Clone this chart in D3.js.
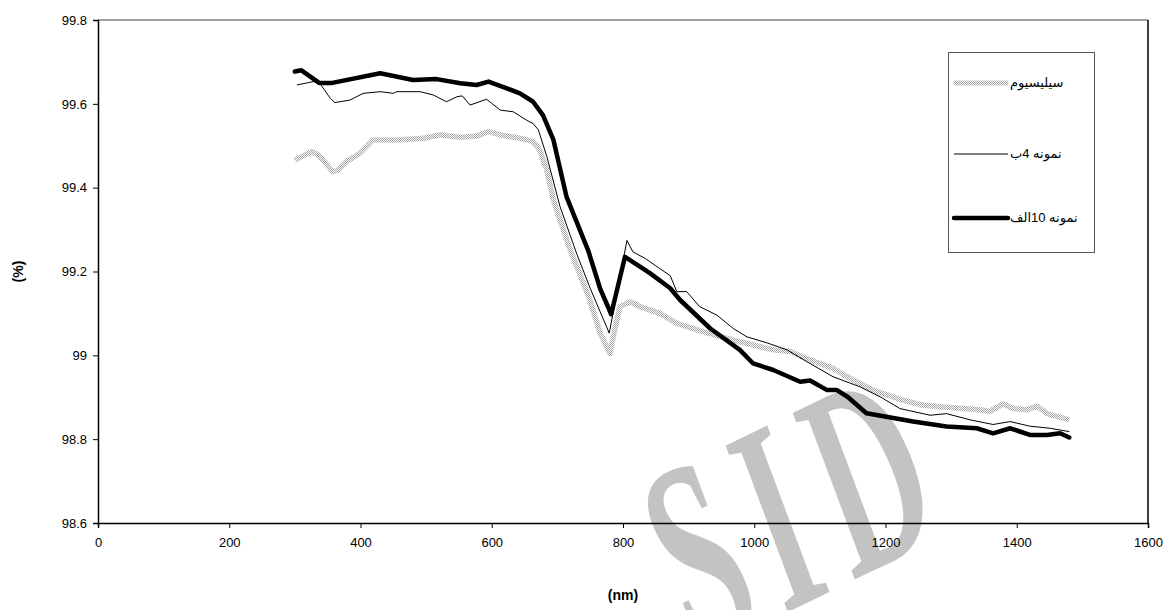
<!DOCTYPE html>
<html>
<head>
<meta charset="utf-8">
<script src="https://cdn.jsdelivr.net/npm/d3@7"></script>
<style>
  body { margin: 0; background: #fff; }
  text { font-family: Arial, "Liberation Sans", "DejaVu Sans", sans-serif; }
</style>
</head>
<body>
<div id="chart-area"></div>
<script>
/*
*    transmittance chart
*/
var seriesNames = ["سیلیسیوم", "نمونه 4ب", "نمونه 10الف"];
var xTicks = [0, 200, 400, 600, 800, 1000, 1200, 1400, 1600];
var yTicks = [98.6, 98.8, 99, 99.2, 99.4, 99.6, 99.8];

// silicon (grey stipple)
var siliconNm  = [300, 326, 336, 358, 366, 379, 399, 419, 455, 496, 521, 552, 577, 595, 613, 643, 663, 673, 684, 694, 720, 750, 765, 780, 795, 811, 826, 856, 882, 907, 933, 968, 998, 1029, 1055, 1085, 1120, 1151, 1181, 1222, 1257, 1293, 1344, 1359, 1379, 1395, 1415, 1431, 1446, 1480];
var siliconVal = [99.466, 99.486, 99.478, 99.438, 99.442, 99.462, 99.482, 99.514, 99.514, 99.518, 99.526, 99.52, 99.523, 99.534, 99.526, 99.518, 99.51, 99.49, 99.442, 99.37, 99.25, 99.13, 99.053, 99.005, 99.116, 99.128, 99.116, 99.10, 99.076, 99.064, 99.052, 99.036, 99.025, 99.013, 99.009, 98.989, 98.969, 98.941, 98.917, 98.895, 98.881, 98.876, 98.87, 98.866, 98.884, 98.873, 98.87, 98.879, 98.861, 98.846];

// sample 4b (thin black)
var s4bNm  = [303, 328, 338, 354, 361, 384, 404, 430, 450, 455, 491, 511, 531, 547, 555, 567, 592, 613, 633, 653, 663, 671, 684, 704, 730, 750, 779, 806, 815, 834, 856, 872, 882, 897, 917, 943, 968, 989, 1019, 1050, 1080, 1120, 1161, 1192, 1222, 1268, 1293, 1329, 1364, 1390, 1420, 1451, 1480];
var s4bVal = [99.645, 99.653, 99.649, 99.613, 99.603, 99.609, 99.625, 99.629, 99.625, 99.629, 99.629, 99.621, 99.605, 99.617, 99.619, 99.597, 99.611, 99.585, 99.581, 99.561, 99.553, 99.538, 99.474, 99.355, 99.24, 99.16, 99.053, 99.274, 99.247, 99.231, 99.207, 99.19, 99.152, 99.152, 99.116, 99.096, 99.064, 99.044, 99.03, 99.013, 98.985, 98.949, 98.925, 98.901, 98.873, 98.857, 98.861, 98.846, 98.835, 98.842, 98.831, 98.826, 98.818];

// sample 10alef (thick black)
var s10Nm  = [300, 310, 337, 357, 430, 480, 516, 552, 577, 595, 623, 643, 663, 678, 694, 714, 747, 765, 782, 803, 841, 872, 887, 933, 978, 998, 1029, 1070, 1085, 1111, 1126, 1143, 1171, 1242, 1293, 1339, 1364, 1390, 1420, 1446, 1466, 1480];
var s10Val = [99.677, 99.68, 99.65, 99.65, 99.673, 99.657, 99.659, 99.649, 99.645, 99.653, 99.637, 99.625, 99.605, 99.573, 99.514, 99.378, 99.25, 99.16, 99.098, 99.235, 99.196, 99.16, 99.132, 99.064, 99.013, 98.981, 98.965, 98.937, 98.94, 98.917, 98.917, 98.90, 98.862, 98.842, 98.830, 98.826, 98.814, 98.826, 98.81, 98.81, 98.814, 98.804];

var margin = {top: 20, bottom: 87, left: 98, right: 28};
var width = 1176;
var height = 610;
var innerW = width - margin.left - margin.right;
var innerH = height - margin.top - margin.bottom;

var svg = d3.select("#chart-area").append("svg")
    .attr("width", width)
    .attr("height", height);

var defs = svg.append("defs");
var pat = defs.append("pattern")
    .attr("id", "stipple")
    .attr("patternUnits", "userSpaceOnUse")
    .attr("width", 2)
    .attr("height", 2);
pat.append("rect").attr("x", 0).attr("y", 0).attr("width", 1).attr("height", 1).attr("fill", "#a3a3a3");
pat.append("rect").attr("x", 1).attr("y", 1).attr("width", 1).attr("height", 1).attr("fill", "#a3a3a3");

// watermark
svg.append("text")
    .attr("transform", "translate(700,655) rotate(-26) scale(0.55,1)")
    .attr("font-style", "italic")
    .attr("font-weight", "bold")
    .attr("font-size", "270px")
    .attr("letter-spacing", "30px")
    .attr("fill", "#c3c3c3")
    .style("font-family", "'Liberation Serif', 'DejaVu Serif', serif")
    .text("SID");

var g = svg.append("g")
    .attr("transform", "translate(" + margin.left + "," + margin.top + ")");

var x = d3.scaleLinear().domain([0, 1600]).range([0, innerW]);
var y = d3.scaleLinear().domain([98.6, 99.8]).range([innerH, 0]);

// plot border (top grey, right dark)
g.append("line").attr("x1", 0).attr("x2", innerW).attr("y1", 0).attr("y2", 0)
    .attr("stroke", "#808080").attr("stroke-width", 1.5);
g.append("line").attr("x1", innerW).attr("x2", innerW).attr("y1", 0).attr("y2", innerH)
    .attr("stroke", "#000").attr("stroke-width", 1.5);

var xAxis = d3.axisBottom(x).tickValues(xTicks).tickSize(5).tickPadding(10)
    .tickFormat(d3.format("d"));
var yAxis = d3.axisLeft(y).tickValues(yTicks).tickSize(5).tickPadding(6)
    .tickFormat((d) => { return d3.format("")(+d.toFixed(1)); });

var xAxisGroup = g.append("g")
    .attr("transform", "translate(0," + innerH + ")")
    .call(xAxis);
var yAxisGroup = g.append("g").call(yAxis);

[xAxisGroup, yAxisGroup].forEach((ag) => {
    ag.select(".domain").attr("stroke", "#000").attr("stroke-width", 1.5);
    ag.selectAll(".tick line").attr("stroke", "#000");
    ag.selectAll(".tick text")
        .attr("fill", "#000")
        .attr("font-size", "13px")
        .attr("font-family", "Arial, 'Liberation Sans', sans-serif");
});

g.append("text")
    .attr("x", innerW / 2)
    .attr("y", innerH + 77)
    .attr("text-anchor", "middle")
    .attr("font-size", "14px")
    .attr("font-weight", "bold")
    .text("(nm)");

g.append("text")
    .attr("transform", "rotate(-90)")
    .attr("x", -(innerH / 2))
    .attr("y", -75)
    .attr("text-anchor", "middle")
    .attr("font-size", "14px")
    .attr("font-weight", "bold")
    .text("(%)");

var line = d3.line()
    .x((d) => x(d[0]))
    .y((d) => y(d[1]));

var silicon = siliconNm.map((d, i) => [d, siliconVal[i]]);
var s4b = s4bNm.map((d, i) => [d, s4bVal[i]]);
var s10 = s10Nm.map((d, i) => [d, s10Val[i]]);

g.append("path").datum(silicon)
    .attr("fill", "none")
    .attr("stroke", "url(#stipple)")
    .attr("stroke-width", 5.5)
    .attr("stroke-linejoin", "round")
    .attr("d", line);

g.append("path").datum(s4b)
    .attr("fill", "none")
    .attr("stroke", "#000")
    .attr("stroke-width", 1)
    .attr("d", line);

g.append("path").datum(s10)
    .attr("fill", "none")
    .attr("stroke", "#000")
    .attr("stroke-width", 4.5)
    .attr("stroke-linejoin", "round")
    .attr("stroke-linecap", "round")
    .attr("d", line);

// legend
var legend = svg.append("g");
legend.append("rect")
    .attr("x", 948.5).attr("y", 52.5)
    .attr("width", 146).attr("height", 200)
    .attr("fill", "#fff")
    .attr("stroke", "#555")
    .attr("stroke-width", 1);

var legendY = [83, 154, 218];
var legendStroke = ["url(#stipple)", "#000", "#000"];
var legendWidth = [5, 1, 4.5];

seriesNames.forEach((name, i) => {
    legend.append("line")
        .attr("x1", 954).attr("x2", 1008)
        .attr("y1", legendY[i]).attr("y2", legendY[i])
        .attr("stroke", legendStroke[i])
        .attr("stroke-width", legendWidth[i])
        .attr("stroke-linecap", i == 2 ? "round" : "butt");
    legend.append("text")
        .attr("x", 1010)
        .attr("y", legendY[i] + 4)
        .attr("font-size", "13px")
        .style("font-family", "'Liberation Sans', 'DejaVu Sans', sans-serif")
        .text(name);
});
</script>
</body>
</html>
